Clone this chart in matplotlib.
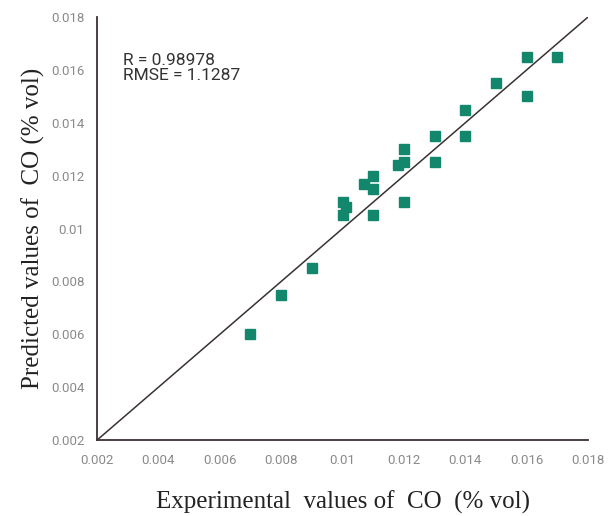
import matplotlib
matplotlib.use("Agg")
import matplotlib.pyplot as plt

# data
experimental = [0.007, 0.008, 0.009, 0.010, 0.010, 0.0101, 0.0107, 0.011, 0.011, 0.011,
                0.0118, 0.012, 0.012, 0.012, 0.013, 0.013, 0.014, 0.014, 0.015, 0.016,
                0.016, 0.017]
predicted = [0.006, 0.0075, 0.0085, 0.011, 0.0105, 0.0108, 0.0117, 0.012, 0.0115, 0.0105,
             0.0124, 0.013, 0.0125, 0.011, 0.0135, 0.0125, 0.0145, 0.0135, 0.0155, 0.0165,
             0.015, 0.0165]
ticks = [0.002, 0.004, 0.006, 0.008, 0.01, 0.012, 0.014, 0.016, 0.018]
tick_labels = ["0.002", "0.004", "0.006", "0.008", "0.01", "0.012", "0.014", "0.016", "0.018"]
stats_text = "R = 0.98978\nRMSE = 1.1287"

fig = plt.figure(figsize=(6.1, 5.16), dpi=100)
ax = fig.add_axes([0.159, 0.147, 0.805, 0.82])

ax.plot([0.002, 0.018], [0.002, 0.018], color="#3a3232", lw=1.1, zorder=1)
ax.plot(experimental, predicted, ls="none", marker="s", ms=7.8,
        color="#12876b", mec="#12876b", zorder=2)

ax.set_xlim(0.002, 0.018)
ax.set_ylim(0.002, 0.018)
ax.set_xticks(ticks)
ax.set_xticklabels(tick_labels)
ax.set_yticks(ticks)
ax.set_yticklabels(tick_labels)
ax.tick_params(length=0, labelsize=9.5, labelcolor="#8a8a8a")
ax.tick_params(axis="x", pad=10)
ax.tick_params(axis="y", pad=9)
for lab in ax.get_xticklabels() + ax.get_yticklabels():
    lab.set_family("Roboto")

for side in ("top", "right"):
    ax.spines[side].set_visible(False)
for side in ("left", "bottom"):
    ax.spines[side].set_color("#3a3232")
    ax.spines[side].set_linewidth(1.3)

ax.text(0.00285, 0.01665, stats_text, fontsize=12.5, color="#333333",
        family="Roboto", va="top", linespacing=1.0)

ax.set_xlabel("Experimental  values of  CO  (% vol)", family="Liberation Serif",
              fontsize=18, color="#222222", labelpad=17)
ax.set_ylabel("Predicted values of  CO (% vol)", family="Liberation Serif",
              fontsize=18, color="#222222", labelpad=4)

plt.savefig("out.png", dpi=100)
plt.close()
